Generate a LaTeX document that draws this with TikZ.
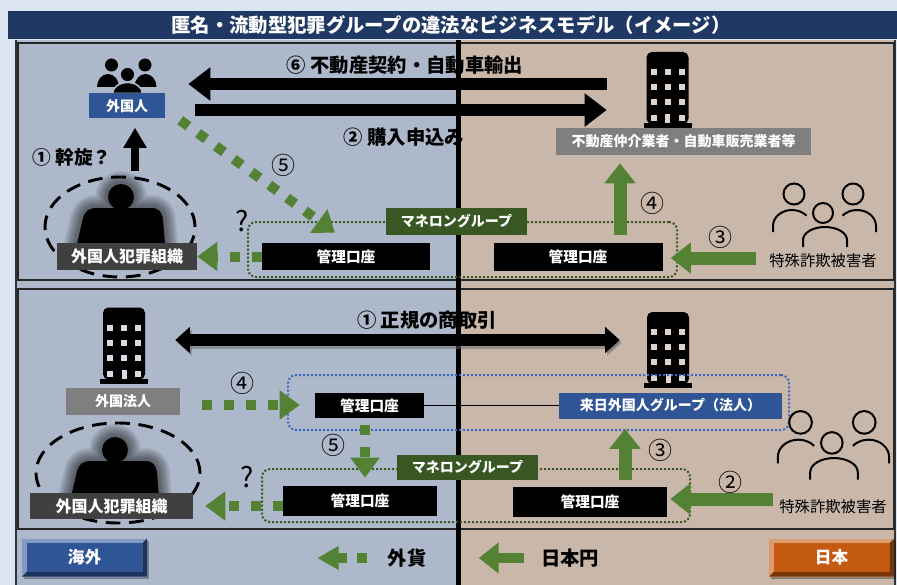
\documentclass[tikz,border=0pt]{standalone}
\usepackage{fontspec}
\setmainfont{Noto Sans CJK JP}
\usetikzlibrary{arrows.meta,calc,shapes.geometric}

\definecolor{pagebg}{HTML}{DCE6F2}
\definecolor{titlebg}{HTML}{203864}
\definecolor{abroad}{HTML}{ADB9CA}
\definecolor{japan}{HTML}{C9B8AA}
\definecolor{mgreen}{HTML}{548235}
\definecolor{dgreen}{HTML}{385723}
\definecolor{boxblue}{HTML}{2F5597}
\definecolor{boxgray}{HTML}{7F7F7F}
\definecolor{boxdark}{HTML}{404040}
\definecolor{dotblue}{HTML}{3A66C0}
\definecolor{jporange}{HTML}{C55A11}

\tikzset{
  sz/.style 2 args={minimum width=#1*0.75pt, minimum height=#2*0.75pt},
  tagbox/.style={inner sep=0pt, text=white, font=\bfseries\fontsize{10.5}{12}\selectfont},
  acct/.style={tagbox, fill=black, font=\bfseries\fontsize{11}{12}\selectfont},
  caption/.style={inner sep=0pt, font=\bfseries\fontsize{14.5}{16}\selectfont},
  num/.style={inner sep=0pt, font=\fontsize{18}{20}\selectfont},
  quest/.style={inner sep=0pt, font=\fontsize{21}{23}\selectfont},
  victext/.style={inner sep=0pt, font=\fontsize{11.5}{13}\selectfont},
  blkarrow/.style={line width=9pt, -{Triangle[width=24pt,length=16.5pt]}},
  blkdbl/.style={line width=9.5pt, {Triangle[width=19pt,length=11pt]}-{Triangle[width=19pt,length=11pt]}},
  blkup/.style={line width=6pt, -{Triangle[width=16.5pt,length=15pt]}},
  grnarrow/.style={mgreen, line width=9.75pt, -{Triangle[width=22.5pt,length=15pt]}},
  grndash/.style={mgreen, line width=7.5pt, dash pattern=on 7.5pt off 9pt, -{Triangle[width=21pt,length=15pt]}},
  dotline/.style={line width=1.5pt, dash pattern=on 1.5pt off 1.5pt},
  gangring/.style={ellipse, draw=black, line width=2.2pt, dash pattern=on 11pt off 6.5pt},
  bevel/.style n args={3}{fill=#2,
    preaction={fill=black, opacity=0.3, transform canvas={xshift=1.5pt,yshift=-2pt}},
    path picture={
      \fill[#3] (path picture bounding box.south west) -- (path picture bounding box.south east)
        -- (path picture bounding box.north east) -- ([shift={(-3.5pt,-3.5pt)}]path picture bounding box.north east)
        -- ([shift={(-3.5pt,3.5pt)}]path picture bounding box.south east)
        -- ([shift={(3.5pt,3.5pt)}]path picture bounding box.south west) -- cycle;
      \fill[#1] ([shift={(3.5pt,3.5pt)}]path picture bounding box.south west)
        rectangle ([shift={(-3.5pt,-3.5pt)}]path picture bounding box.north east);
    }},
  pics/building/.style={code={
    \fill[black, rounded corners=4pt] (-21,34) rectangle (21,-38);
    \fill[black] (-24,33) rectangle (24,38);
    \foreach \yy in {-18,-3,12}{\foreach \xx in {-14,0,14}{
      \fill[#1] (\xx-3,\yy-3) rectangle (\xx+3,\yy+3);}}
    \fill[#1] (-17,25) rectangle (-11,31);
    \fill[#1] (11,25) rectangle (17,31);
    \fill[#1] (-2.5,24) rectangle (2.5,33);
  }},
  pics/building/.default=white,
  pics/crowd/.style={code={
    \fill[black] (-16,-10.5) circle[radius=6.5];
    \fill[black] (17.5,-10.5) circle[radius=6.5];
    \fill[black] (-30.5,11.5) arc[start angle=180, end angle=360, x radius=11, y radius=13] -- cycle;
    \fill[black] (7,11.5) arc[start angle=180, end angle=360, x radius=11, y radius=13] -- cycle;
    \filldraw[fill=black, draw=abroad, line width=1.2pt] (0,-1) circle[radius=7.5];
    \filldraw[fill=black, draw=abroad, line width=1.2pt] (-15,18) arc[start angle=180, end angle=360, x radius=15, y radius=11] -- cycle;
  }},
  pics/victims/.style={code={
    \begin{scope}[line width=1.5pt, black]
      \draw (-31,-20) circle[radius=10.5];
      \draw (28,-20) circle[radius=10.5];
      \draw (-2,-1) circle[radius=10];
      \draw (-52,18) -- (-52,12) arc[start angle=180, end angle=320, x radius=19, y radius=16];
      \draw (51,18) -- (51,12) arc[start angle=0, end angle=-140, x radius=19, y radius=16];
      \draw (-22,33) -- (-22,26) arc[start angle=180, end angle=360, x radius=22, y radius=13] -- (22,33);
    \end{scope}
  }},
  % blurred silhouette of a boss: soft halo built from thin translucent strokes
  pics/boss/.style={code={
    \foreach \w in {26,23,20,17,14,11,8,5}{
      \draw[black, line width=\w*0.75pt, opacity=0.07, line join=round]
        (0,1) circle[radius=13]
        (-44,48) -- (-38,22) .. controls (-36,15) and (-32,12) .. (-24,12)
        -- (30,12) .. controls (38,12) and (41,16) .. (42,24) -- (44,48) -- cycle;
    }
    \fill[black] (0,1) circle[radius=13];
    \fill[black] (-7,10) rectangle (7,14);
    \fill[black] (-44,48) -- (-38,22) .. controls (-36,15) and (-32,12) .. (-24,12)
        -- (30,12) .. controls (38,12) and (41,16) .. (42,24) -- (44,48) -- cycle;
  }}
}

\begin{document}
\begin{tikzpicture}[x=0.75pt,y=-0.75pt]
\useasboundingbox (0,0) rectangle (897,585);

% ---- backgrounds -------------------------------------------------
\fill[pagebg] (0,0) rectangle (897,585);
\fill[abroad] (16,40) rectangle (458,585);
\fill[japan] (458,40) rectangle (895,585);
\draw[black!80, line width=0.8pt] (16,40) -- (16,585);
\draw[black!80, line width=0.8pt] (895,40) -- (895,585);
\draw[black!85, line width=1.2pt] (18,43) rectangle (894,280);
\draw[black!85, line width=1.2pt] (18,289) rectangle (894,529);

% ---- title bar ---------------------------------------------------
\fill[titlebg] (8,11) rectangle (897,39);
\node[text=white, inner sep=0pt, font=\bfseries\fontsize{14.5}{16}\selectfont] (title) at (451,25)
  {匿名・流動型犯罪グループの違法なビジネスモデル（イメージ）};

% ---- captions crossed by the border line ------------------------
\node[caption] (cap6) at (405,65) {⑥ 不動産契約・自動車輸出};
\node[caption] (cap2) at (404,137) {② 購入申込み};
\node[caption] (cap1b) at (427,320) {① 正規の商取引};

% border between overseas and Japan
\draw[black, line width=3.75pt] (458,40) -- (458,585);

% ================= upper scheme ==================================
\node[sz={61}{35}] (crowd) at (127.5,75.5) {};
\pic at (crowd.center) {crowd};
\node[tagbox, fill=boxblue, sz={76}{25}] (fgn) at (127,106) {外国人};

\node[sz={49}{76}] (bldA) at (667.5,90) {};
\pic at (bldA.center) {building=japan!60!white};
\node[tagbox, fill=boxgray, sz={255}{27}] (agent) at (683.5,141.5) {不動産仲介業者・自動車販売業者等};

\node[gangring, sz={150}{100}] (ell1) at (120,227) {};
\pic at (121,196) {boss};
\node[tagbox, fill=boxdark, sz={140}{27}, font=\bfseries\fontsize{12}{13}\selectfont] (org1) at (127,256.5) {外国人犯罪組織};

\node[draw=dgreen, dotline, rounded corners=6pt, sz={429}{55}] (mlg1) at (462.5,249.5) {};
\node[acct, sz={168}{27}] (accA) at (346,256.5) {管理口座};
\node[acct, sz={169}{28}] (accB) at (578,257) {管理口座};
\node[tagbox, fill=dgreen, sz={141}{27}] (ml1) at (456.5,221.5) {マネロングループ};

\node[sz={105}{60}] (vicA) at (825,214) {};
\pic at (vicA.center) {victims};
\node[victext] (vicAl) at (823,261) {特殊詐欺被害者};

% arrows
\draw[blkarrow] ($(bldA.west)+(-36,-6)$) -- ($(fgn.east)+(23,-22)$);
\draw[blkarrow] ($(fgn.east)+(30,4)$) -- ($(bldA.west)+(-36,20)$);
\draw[blkup] ($(ell1.north)+(15,-5)$) -- ($(fgn.south)+(8,9)$);
\draw[grndash] ($(fgn.south east)+(15,1.5)$) -- ($(accA.north)+(-11,-10)$);
\draw[grndash] (accA.west) -- (org1.east);
\draw[grnarrow] ($(accB.north)+(42,-8)$) -- ($(agent.south)+(-63.5,8)$);
\draw[grnarrow] ($(accB.east)+(93,1)$) -- ($(accB.east)+(8,1)$);

\node[caption, font=\bfseries\fontsize{14}{16}\selectfont] (cap1a) at (72,157) {① 幹旋？};
\node[num] (n5a) at (283,165) {⑤};
\node[num] (n4a) at (652,203) {④};
\node[num] (n3a) at (720,237) {③};
\node[quest] (qa) at (242,221) {?};

% ================= lower scheme ==================================
\node[sz={50}{76}] (bldB) at (124,345.5) {};
\pic at (bldB.center) {building=abroad!50!white};
\node[sz={50}{76}] (bldC) at (668,350) {};
\pic at (bldC.center) {building=japan!60!white};
\node[tagbox, fill=boxgray, sz={114}{27}] (forp) at (123,401.5) {外国法人};

\node[draw=dotblue, dotline, rounded corners=6pt, sz={501}{55}] (blug) at (538.5,402.5) {};
\node[acct, sz={109}{25}] (accC) at (369.5,405.5) {管理口座};
\node[tagbox, fill=boxblue, sz={223}{26}] (jpg) at (670.5,405.5) {来日外国人グループ（法人）};
\draw[black, line width=1pt] (accC.east) -- (jpg.west);

\draw[blkdbl, black!60, opacity=0.5, transform canvas={xshift=1.5pt,yshift=-2pt}]
  ($(bldB.east)+(26,-5.5)$) -- ($(bldC.west)+(-23,-10)$);
\draw[blkdbl] ($(bldB.east)+(26,-5.5)$) -- ($(bldC.west)+(-23,-10)$);

\node[gangring, sz={164}{100}] (ell2) at (118,473) {};
\pic at (115,449) {boss};
\node[tagbox, fill=boxdark, sz={163}{26}, font=\bfseries\fontsize{12}{13}\selectfont] (org2) at (111.5,506) {外国人犯罪組織};

\node[draw=dgreen, dotline, rounded corners=6pt, sz={428}{53}] (mlg2) at (476,495.5) {};
\node[acct, sz={154}{30}] (accD) at (360,501) {管理口座};
\node[acct, sz={154}{30}] (accE) at (590,502) {管理口座};
\node[tagbox, fill=dgreen, sz={141}{25}] (ml2) at (467.5,467.5) {マネロングループ};

\node[sz={112}{64}] (vicB) at (834,444) {};
\pic[scale=1.08] at (vicB.center) {victims};
\node[victext] (vicBl) at (833,507) {特殊詐欺被害者};

\draw[grndash] ($(forp.east)+(22,3.5)$) -- ($(accC.west)+(-15,-0.5)$);
\draw[grndash] ($(accC.south)+(-4.5,7)$) -- ($(accD.north)+(5,-8)$);
\draw[grndash] ($(accD.west)+(0,5)$) -- ($(org2.east)+(12,0)$);
\draw[grnarrow] ($(accE.north)+(35,-7)$) -- ($(jpg.south)+(-45.5,10)$);
\draw[grnarrow] ($(accE.east)+(106,-3)$) -- ($(accE.east)+(3,-3)$);

\node[num] (n4b) at (242,383) {④};
\node[num] (n5b) at (333,445) {⑤};
\node[num] (n3b) at (660,450) {③};
\node[num] (n2b) at (730,482) {②};
\node[quest] (qb) at (247,477) {?};

% ================= legend ========================================
\node[tagbox, bevel={boxblue}{boxblue!60!white}{boxblue!60!black}, sz={125}{38},
  font=\bfseries\fontsize{12.5}{14}\selectfont] (legab) at (84.5,557.5) {海外};
\node[tagbox, bevel={jporange}{jporange!60!white}{jporange!60!black}, sz={125}{38},
  font=\bfseries\fontsize{12.5}{14}\selectfont] (legjp) at (831.5,557.5) {日本};
\node[caption] (legfx) at (407,558) {外貨};
\node[caption] (legyen) at (570,558) {日本円};
\draw[grndash, dash pattern=on 7.5pt off 7.5pt, -{Triangle[width=17pt,length=16pt]}]
  ($(legfx.west)+(-20,0)$) -- ($(legfx.west)+(-70,0)$);
\draw[grnarrow, line width=7.5pt] ($(legyen.west)+(-17,0)$) -- ($(legyen.west)+(-62,0)$);

\end{tikzpicture}
\end{document}
